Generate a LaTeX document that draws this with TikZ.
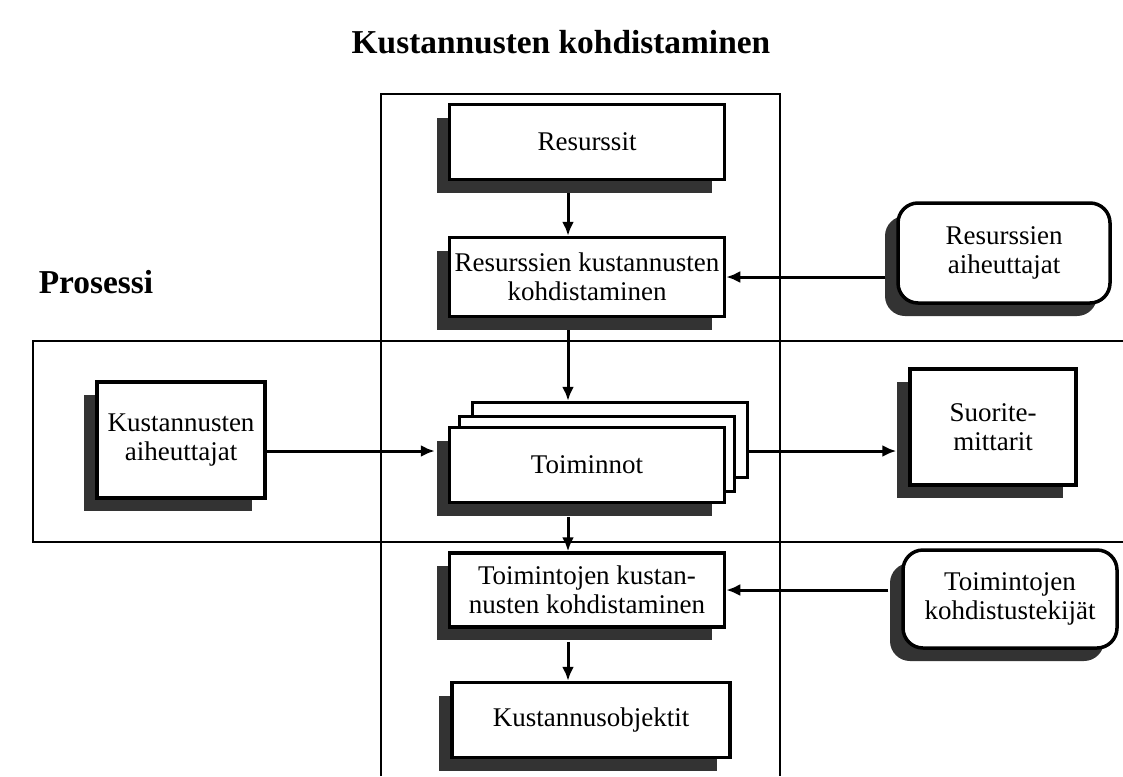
\documentclass[tikz,border=0pt]{standalone}
\usepackage{fontspec}
\setmainfont{Liberation Serif}
\usetikzlibrary{arrows.meta,shadows}

\tikzset{
  stepbox/.style={draw, line width=1.75pt, fill=white, align=center, inner sep=0pt,
    minimum width=137.5pt, minimum height=37.5pt,
    font=\fontsize{13.5}{14.5}\selectfont,
    drop shadow={shadow xshift=-6.5pt, shadow yshift=-6.5pt, fill=black!80, opacity=1}},
  driverbox/.style={stepbox, rounded corners=10pt},
  flow/.style={->, line width=1.5pt},
  band/.style={line width=1.2pt},
  heading/.style={font=\fontsize{16.7}{20}\selectfont\bfseries}
}

\begin{document}
\begin{tikzpicture}[x=0.5pt, y=-0.5pt, >={Latex[length=7pt,width=6pt]}]
  \useasboundingbox (0,0) rectangle (1123,776);

  % process bands
  \draw [band] (381,776) -- (381,94) -- (780,94) -- (780,776);
  \draw [band] (1123,341) -- (33,341) -- (33,542) -- (1123,542);

  \node (title) at (561,42) [heading] {Kustannusten kohdistaminen};
  \node (prosessi) at (96,282) [heading] {Prosessi};

  \coordinate (spine) at (568,0);
  \coordinate (link) at (0,451);

  \node (res) at (587,142) [stepbox] {Resurssit};
  \node (rkk) at (587,277) [stepbox, minimum height=39.5pt] {Resurssien kustannusten\\kohdistaminen};
  \node (toim) at (587,465) [stepbox,
      copy shadow={shadow xshift=11.5pt, shadow yshift=12.5pt, draw=black, line width=1.75pt, fill=white},
      copy shadow={shadow xshift=5pt, shadow yshift=5.5pt, draw=black, line width=1.75pt, fill=white}] {Toiminnot};
  \node (tkk) at (587,590) [stepbox, minimum height=37pt] {Toimintojen kustan-\\nusten kohdistaminen};
  \node (ko) at (591,720) [stepbox, minimum width=139pt] {Kustannusobjektit};

  \node (rai) at (1004,253) [driverbox, minimum width=106pt, minimum height=50pt] {Resurssien\\aiheuttajat};
  \node (tkt) at (1010,599) [driverbox, minimum width=107pt, minimum height=49pt] {Toimintojen\\kohdistustekijät};
  \node (sm) at (993,427) [stepbox, minimum width=83pt, minimum height=58pt] {Suorite-\\mittarit};
  \node (kai) at (181,440) [stepbox, minimum width=84pt, minimum height=58pt] {Kustannusten\\aiheuttajat};

  \draw [flow, shorten <=6pt] (res.south -| spine) -- (rkk.north -| spine);
  \draw [flow, shorten <=6pt, shorten >=12.5pt] (rkk.south -| spine) -- (toim.north -| spine);
  \draw [flow, shorten <=6.5pt] (toim.south -| spine) -- (tkk.north -| spine);
  \draw [flow, shorten <=6.5pt] (tkk.south -| spine) -- (ko.north -| spine);
  \draw [flow, shorten <=5.5pt] (rkk.east -| rai.west) -- (rkk.east);
  \draw [flow, shorten <=6.5pt] (tkk.east -| tkt.west) -- (tkk.east);
  \draw [flow, shorten >=6.5pt] (kai.east |- link) -- (toim.west |- link);
  \draw [flow, shorten <=11.5pt, shorten >=6pt] (toim.east |- link) -- (sm.west |- link);
\end{tikzpicture}
\end{document}
